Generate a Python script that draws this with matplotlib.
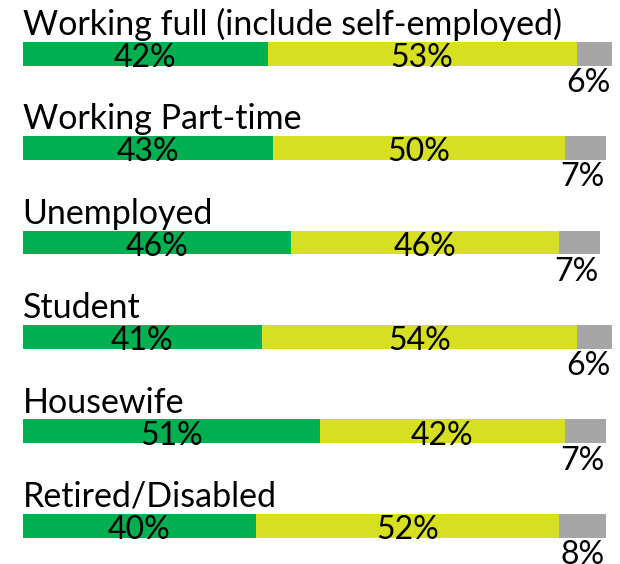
import matplotlib
matplotlib.use('Agg')
import matplotlib.pyplot as plt

categories = ['Working full (include self-employed)', 'Working Part-time', 'Unemployed',
              'Student', 'Housewife', 'Retired/Disabled']
green_vals = [42, 43, 46, 41, 51, 40]
yellow_vals = [53, 50, 46, 54, 42, 52]
gray_vals = [6, 7, 7, 6, 7, 8]

colors = ['#00B050', '#D6DF22', '#A6A6A6']
font = ['Lato', 'DejaVu Sans']
fs = 23
title_fs = 24.5

fig = plt.figure(figsize=(6.2, 5.64), dpi=100)
ax = fig.add_axes([0, 0, 1, 1])
ax.set_xlim(-3.89, 102.45)
ax.set_ylim(5.406, -0.569)
ax.axis('off')

bh = 0.254
for i, cat in enumerate(categories):
    g, y, r = green_vals[i], yellow_vals[i], gray_vals[i]
    ax.barh(i, g, left=0, height=bh, color=colors[0], edgecolor='none')
    ax.barh(i, y, left=g, height=bh, color=colors[1], edgecolor='none')
    ax.barh(i, r, left=g + y, height=bh, color=colors[2], edgecolor='none')
    ax.text(0, i - 0.198, cat, family=font, fontsize=title_fs, ha='left', va='baseline')
    ax.text(g / 2, i + 0.141, f'{g}%', family=font, fontsize=fs, ha='center', va='baseline')
    ax.text(g + y / 2, i + 0.141, f'{y}%', family=font, fontsize=fs, ha='center', va='baseline')
    ax.text(g + y + r - 0.2, i + 0.406, f'{r}%', family=font, fontsize=fs, ha='right', va='baseline')

fig.savefig('out.png', dpi=100)
